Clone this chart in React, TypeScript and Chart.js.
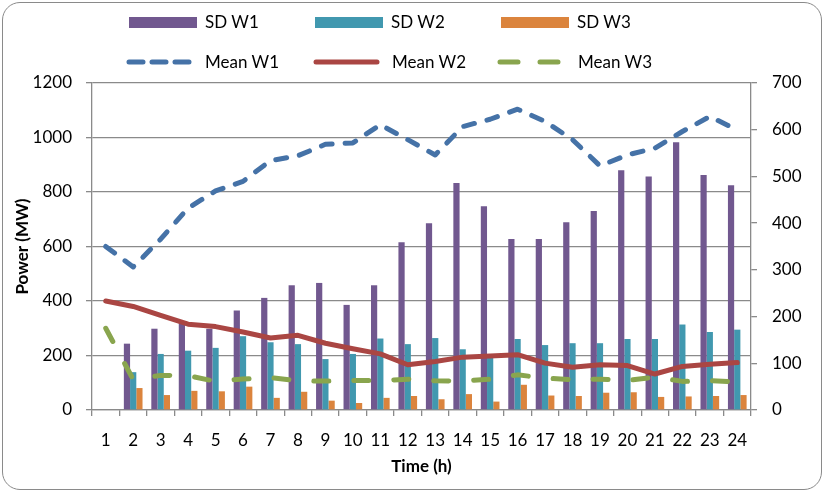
import React, { useEffect, useRef } from "react";
import { Chart, registerables } from "chart.js";

Chart.register(...registerables);

// Hours of the day
const hours = [
  "1", "2", "3", "4", "5", "6", "7", "8", "9", "10", "11", "12",
  "13", "14", "15", "16", "17", "18", "19", "20", "21", "22", "23", "24",
];

// Standard deviation per wind farm (secondary axis)
const sdW1 = [0, 142, 174, 188, 174, 213, 240, 267, 272, 225, 267, 359, 400, 486, 436, 366, 366, 402, 426, 513, 500, 573, 503, 481];
const sdW2 = [0, 81, 120, 127, 133, 158, 145, 141, 109, 120, 153, 141, 154, 130, 117, 152, 139, 143, 143, 152, 152, 183, 167, 172];
const sdW3 = [0, 47, 32, 41, 40, 50, 26, 39, 20, 15, 26, 30, 23, 34, 18, 54, 31, 30, 37, 38, 28, 29, 30, 32];

// Mean power per wind farm, MW (primary axis)
const meanW1 = [600, 525, 627, 741, 804, 839, 915, 933, 975, 980, 1047, 992, 936, 1040, 1067, 1104, 1059, 992, 896, 936, 961, 1022, 1077, 1028];
const meanW2 = [400, 380, 347, 315, 306, 286, 264, 274, 245, 225, 206, 166, 178, 194, 198, 203, 172, 157, 166, 163, 132, 160, 168, 174];
const meanW3 = [300, 112, 127, 126, 105, 114, 119, 107, 106, 108, 108, 113, 107, 106, 113, 129, 117, 111, 113, 108, 121, 105, 108, 102];

const FONT = "Lato, 'Open Sans', sans-serif";
const AXIS_GREY = "#8a8a8a";

const C_SD1 = "#71588F";
const C_SD2 = "#4198AF";
const C_SD3 = "#DB843D";
const C_M1 = "#4572A7";
const C_M2 = "#AA4643";
const C_M3 = "#89A54E";

const textStyle: React.CSSProperties = {
  position: "absolute",
  font: `17px ${FONT}`,
  color: "#000",
  lineHeight: "20px",
  whiteSpace: "nowrap",
};

function BoxKey({ x, y, color, label, tx }: { x: number; y: number; color: string; label: string; tx: number }) {
  return (
    <>
      <div style={{ position: "absolute", left: x, top: y - 5.5, width: 68, height: 11, background: color }} />
      <div style={{ ...textStyle, left: tx, top: y - 10 }}>{label}</div>
    </>
  );
}

function LineKey({ x, y, color, dash, label, tx }: { x: number; y: number; color: string; dash?: string; label: string; tx: number }) {
  return (
    <>
      <svg style={{ position: "absolute", left: x, top: y - 6 }} width={70} height={12}>
        <line x1={3} y1={6} x2={64} y2={6} stroke={color} strokeWidth={5} strokeLinecap="round" strokeDasharray={dash} />
      </svg>
      <div style={{ ...textStyle, left: tx, top: y - 10 }}>{label}</div>
    </>
  );
}

const plainNumber = (v: number | string) => String(v);

export default function App() {
  const ref = useRef<HTMLCanvasElement>(null);

  useEffect(() => {
    const tickFont = { family: FONT, size: 17 };
    const titleFont = { family: FONT, size: 17, weight: "bold" as const };

    const chart = new Chart(ref.current!, {
      type: "bar",
      data: {
        labels: hours,
        datasets: [
          {
            type: "line",
            label: "Mean W2",
            data: meanW2,
            yAxisID: "y",
            borderColor: C_M2,
            backgroundColor: C_M2,
            borderWidth: 5,
            borderCapStyle: "round",
            borderJoinStyle: "round",
            pointRadius: 0,
            tension: 0,
            fill: false,
            order: 0,
          },
          {
            type: "line",
            label: "Mean W1",
            data: meanW1,
            yAxisID: "y",
            borderColor: C_M1,
            backgroundColor: C_M1,
            borderWidth: 5,
            borderDash: [11, 13],
            borderCapStyle: "round",
            borderJoinStyle: "round",
            pointRadius: 0,
            tension: 0,
            fill: false,
            order: 0,
          },
          {
            type: "line",
            label: "Mean W3",
            data: meanW3,
            yAxisID: "y",
            borderColor: C_M3,
            backgroundColor: C_M3,
            borderWidth: 5,
            borderDash: [15, 25],
            borderCapStyle: "round",
            borderJoinStyle: "round",
            pointRadius: 0,
            tension: 0,
            fill: false,
            order: 0,
          },
          {
            type: "bar",
            label: "SD W1",
            data: sdW1,
            yAxisID: "y1",
            backgroundColor: C_SD1,
            categoryPercentage: 0.68,
            barPercentage: 1,
            order: 1,
          },
          {
            type: "bar",
            label: "SD W2",
            data: sdW2,
            yAxisID: "y1",
            backgroundColor: C_SD2,
            categoryPercentage: 0.68,
            barPercentage: 1,
            order: 1,
          },
          {
            type: "bar",
            label: "SD W3",
            data: sdW3,
            yAxisID: "y1",
            backgroundColor: C_SD3,
            categoryPercentage: 0.68,
            barPercentage: 1,
            order: 1,
          },
        ],
      },
      options: {
        responsive: false,
        animation: false,
        devicePixelRatio: 1,
        layout: { padding: { top: 83, left: 0, right: 0, bottom: 0 } },
        plugins: {
          legend: { display: false },
          tooltip: { enabled: false },
        },
        scales: {
          x: {
            type: "category",
            offset: true,
            grid: {
              offset: true,
              drawOnChartArea: false,
              drawTicks: true,
              tickLength: 6,
              color: AXIS_GREY,
              lineWidth: 1.3,
            },
            border: { color: AXIS_GREY, width: 1.3 },
            ticks: {
              font: tickFont,
              color: "#000",
              padding: 14,
              maxRotation: 0,
              autoSkip: false,
            },
            title: {
              display: true,
              text: "Time (h)",
              font: titleFont,
              color: "#000",
              padding: { top: 0, bottom: 16 },
            },
            afterFit: (s: any) => {
              s.height = 83;
            },
          },
          y: {
            position: "left",
            min: 0,
            max: 1200,
            ticks: { stepSize: 200, font: tickFont, color: "#000", padding: 14, callback: plainNumber },
            grid: { color: AXIS_GREY, lineWidth: 1.3, tickLength: 6, drawTicks: true },
            border: { color: AXIS_GREY, width: 1.3 },
            title: {
              display: true,
              text: "Power (MW)",
              font: titleFont,
              color: "#000",
              padding: { top: 12, bottom: 0 },
            },
            afterFit: (s: any) => {
              s.width = 92;
            },
          },
          y1: {
            position: "right",
            min: 0,
            max: 700,
            ticks: { stepSize: 100, font: tickFont, color: "#000", padding: 15, callback: plainNumber },
            grid: { drawOnChartArea: false, color: AXIS_GREY, lineWidth: 1.3, tickLength: 6, drawTicks: true },
            border: { color: AXIS_GREY, width: 1.3 },
            afterFit: (s: any) => {
              s.width = 74;
            },
          },
        },
      },
    });

    return () => chart.destroy();
  }, []);

  return (
    <div style={{ position: "fixed", left: 0, top: 0, width: 825, height: 493, background: "#fff", overflow: "hidden" }}>
      <canvas ref={ref} width={825} height={493} style={{ position: "absolute", left: 0, top: 0 }} />
      <div
        style={{
          position: "absolute",
          left: 2,
          top: 2,
          width: 818,
          height: 486,
          border: `1.5px solid ${AXIS_GREY}`,
          borderRadius: 18,
          pointerEvents: "none",
        }}
      />
      <BoxKey x={129} y={22} color={C_SD1} label="SD W1" tx={205} />
      <BoxKey x={315} y={22} color={C_SD2} label="SD W2" tx={391} />
      <BoxKey x={501} y={22} color={C_SD3} label="SD W3" tx={577} />
      <LineKey x={126} y={62} color={C_M1} dash="14 9" label="Mean W1" tx={205} />
      <LineKey x={313} y={62} color={C_M2} label="Mean W2" tx={392} />
      <LineKey x={497} y={62} color={C_M3} dash="18 22" label="Mean W3" tx={578} />
    </div>
  );
}
